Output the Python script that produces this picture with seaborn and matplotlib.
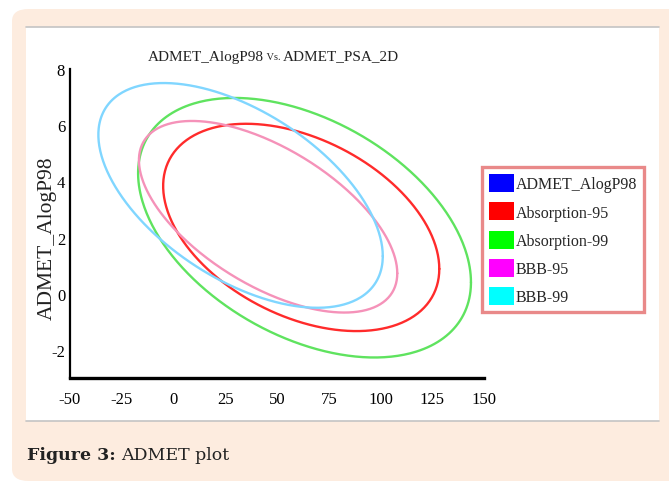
import numpy as np
import pandas as pd
import matplotlib
matplotlib.use('Agg')
import matplotlib.pyplot as plt
import seaborn as sns
from matplotlib.patches import Patch, FancyBboxPatch, Rectangle
from matplotlib.lines import Line2D

# ellipses: centre, half extents along x / y, and tilt (rho)
sets = ['Absorption-95', 'Absorption-99', 'BBB-95', 'BBB-99']
cx = [61.7, 63.3, 45.7, 32.4]
cy = [2.36, 2.35, 2.74, 3.50]
half_x = [66.7, 80.4, 62.4, 68.7]
half_y = [3.69, 4.62, 3.41, 4.00]
rho = [-0.40, -0.42, -0.59, -0.54]
line_colors = ['#ff2b2b', '#5fe35f', '#f592b9', '#80d6ff']

legend_labels = ['ADMET_AlogP98', 'Absorption-95', 'Absorption-99', 'BBB-95', 'BBB-99']
legend_colors = ['#0000ff', '#ff0000', '#00ff00', '#ff00ff', '#00ffff']

x_ticks = [-50, -25, 0, 25, 50, 75, 100, 125, 150]
y_ticks = [-2, 0, 2, 4, 6, 8]

t = np.linspace(0, 2 * np.pi, 400)
rows = []
for i, name in enumerate(sets):
    xs = cx[i] + half_x[i] * np.cos(t)
    ys = cy[i] + half_y[i] * (rho[i] * np.cos(t) + np.sqrt(1 - rho[i] ** 2) * np.sin(t))
    rows.append(pd.DataFrame({'PSA': xs, 'AlogP': ys, 'set': name}))
df = pd.concat(rows, ignore_index=True)

sns.set_style('white')
plt.rcParams['font.family'] = ['Liberation Serif', 'DejaVu Serif']
plt.rcParams['axes.unicode_minus'] = False

W, H = 669, 485
fig = plt.figure(figsize=(W / 100, H / 100), dpi=100)
fig.patch.set_facecolor('white')


def px(x, y):
    return x / W, 1 - y / H


# peach card + white panel
card = FancyBboxPatch(px(12, 482), (W + 30 - 12) / W, (482 - 10) / H,
                      boxstyle='round,pad=0,rounding_size=0.025',
                      transform=fig.transFigure, facecolor='#fdecdf', edgecolor='none', zorder=0)
fig.patches.append(card)
panel = Rectangle(px(26, 422), (659 - 26) / W, (422 - 28) / H, transform=fig.transFigure,
                  facecolor='white', edgecolor='none', zorder=1)
fig.patches.append(panel)
for yy in (28, 422):
    fig.lines.append(Line2D([26 / W, 659 / W], [1 - yy / H] * 2, transform=fig.transFigure,
                            color='#c4c4c4', lw=1.2, zorder=2))

ax = fig.add_axes([70 / W, 1 - 379 / H, 414 / W, 309 / H])
ax.set_facecolor('none')
ax.set_zorder(3)
sns.lineplot(data=df, x='PSA', y='AlogP', hue='set', units='set', sort=False, estimator=None,
             palette=dict(zip(sets, line_colors)), linewidth=1.7, legend=False, ax=ax)

ax.set_xlim(-50, 150)
ax.set_ylim(-3, 8)
ax.set_xticks(x_ticks)
ax.set_yticks(y_ticks)
ax.set_xlabel('')
ax.set_ylabel('')
for side in ('top', 'right'):
    ax.spines[side].set_visible(False)
ax.spines['left'].set_linewidth(1.6)
ax.spines['bottom'].set_linewidth(2.4)
ax.spines['left'].set_color('black')
ax.spines['bottom'].set_color('black')
ax.tick_params(axis='x', direction='inout', length=7, width=1.3, labelsize=12, pad=6, colors='black')
ax.tick_params(axis='y', direction='inout', length=5, width=1.3, labelsize=12, pad=1, colors='black')

# title with a small "Vs."
t1 = fig.text(*px(148, 57), 'ADMET_AlogP98', fontsize=11, va='center', ha='left', color='#222222')
t2 = ax.annotate(' Vs. ', xy=(1, 0.12), xycoords=t1, va='bottom', ha='left', fontsize=7.5, color='#222222')
ax.annotate('ADMET_PSA_2D', xy=(1, -0.14), xycoords=t2, va='bottom', ha='left', fontsize=11, color='#222222')

fig.text(*px(47, 238), 'ADMET_AlogP98', rotation=90, fontsize=15.5, ha='center', va='center', color='#222222')

handles = [Patch(facecolor=c, edgecolor='none') for c in legend_colors]
leg = fig.legend(handles, legend_labels, loc='upper left', bbox_to_anchor=px(482, 168),
                 fontsize=11.5, frameon=True, fancybox=False, borderpad=0.45, labelspacing=0.62,
                 handlelength=1.55, handleheight=1.35, handletextpad=0.12, borderaxespad=0)
leg.get_frame().set_edgecolor('#e46c6c')
leg.get_frame().set_linewidth(2.4)
leg.set_zorder(4)

fig.text(*px(27, 456), 'Figure 3:', fontsize=12.5, fontweight='bold', family=['DejaVu Serif'],
         va='center', ha='left', color='#222222')
fig.text(*px(121, 456), 'ADMET plot', fontsize=12.5, family=['DejaVu Serif'],
         va='center', ha='left', color='#222222')

fig.savefig('out.png', dpi=100, facecolor=fig.get_facecolor())
